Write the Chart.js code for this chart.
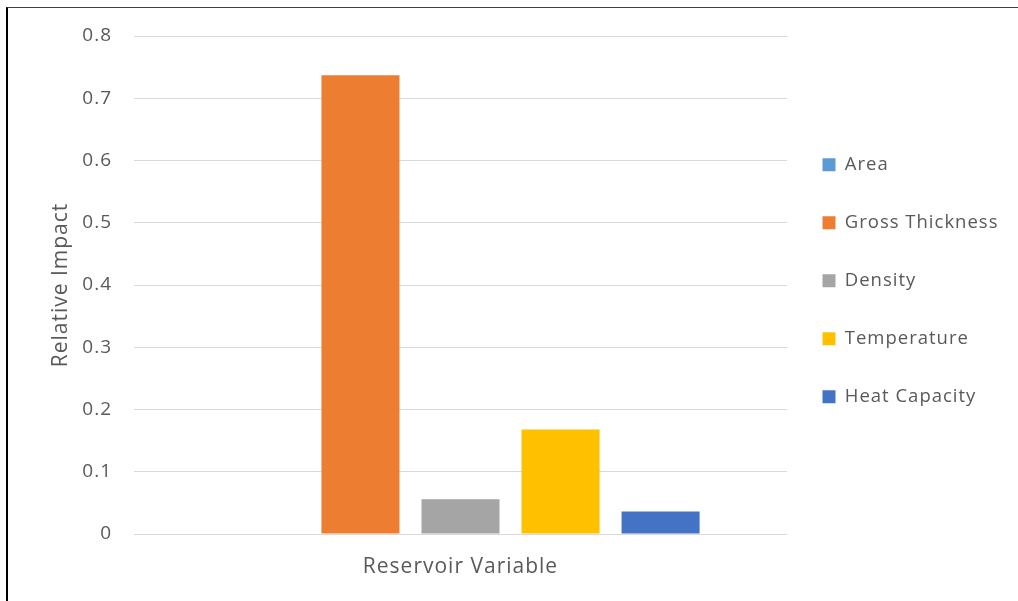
<!DOCTYPE html>
<html>
<head>
<meta charset="utf-8">
<script src="https://cdn.jsdelivr.net/npm/chart.js@4"></script>
<style>
  html, body { margin: 0; padding: 0; background: #fff; }
  #frame {
    position: absolute; left: 6px; top: 7px; width: 1011px; height: 600px;
    border-top: 1px solid #404040; border-left: 2px solid #000;
  }
  #chart { position: absolute; left: 0; top: 0; }
</style>
</head>
<body>
<div id="frame"></div>
<canvas id="chart" width="1018" height="601"></canvas>
<script>
const categories = [''];
const seriesNames = ['Area', 'Gross Thickness', 'Density', 'Temperature', 'Heat Capacity'];
const seriesValues = [0, 0.737, 0.056, 0.168, 0.036];
const seriesColors = ['#5b9bd5', '#ed7d31', '#a5a5a5', '#ffc000', '#4472c4'];
const yTicks = { min: 0, max: 0.8, step: 0.1 };

const textColor = '#595959';
const fontFamily = '"Open Sans", sans-serif';

// keep the legend column a fixed width so the plot area ends where it should
const legendFix = {
  id: 'legendFix',
  beforeLayout(chart) {
    chart.ctx.letterSpacing = '1px';
    const lg = chart.legend;
    if (lg && !lg.$fixed) {
      const fit = lg.fit;
      lg.fit = function () { fit.call(this); this.width = 231; };
      lg.$fixed = true;
    }
  },
  afterLayout(chart) {
    chart.legend.left -= 4;
    chart.legend.right -= 4;
  },
  beforeDraw(chart) {
    chart.ctx.letterSpacing = '1px';
  }
};

const chart = new Chart(document.getElementById('chart'), {
  type: 'bar',
  data: {
    labels: categories,
    datasets: seriesNames.map((name, i) => ({
      label: name,
      data: [seriesValues[i]],
      backgroundColor: seriesColors[i],
      borderWidth: 0,
      categoryPercentage: 0.766,
      barPercentage: 0.78
    }))
  },
  options: {
    responsive: false,
    animation: false,
    layout: { padding: { top: 36, left: 40, right: 0, bottom: 0 } },
    plugins: {
      tooltip: { enabled: false },
      legend: {
        position: 'right',
        align: 'start',
        title: { display: true, text: '', font: { size: 10, lineHeight: 1 }, padding: { top: 70, bottom: 0 } },
        labels: {
          boxWidth: 13,
          boxHeight: 13,
          padding: 39.5,
          color: textColor,
          font: { family: fontFamily, size: 18.5 }
        }
      }
    },
    scales: {
      x: {
        grid: { display: false },
        border: { display: false },
        ticks: { display: false },
        title: {
          display: true,
          text: 'Reservoir Variable',
          color: textColor,
          font: { family: fontFamily, size: 21, lineHeight: 1.2 },
          padding: { top: 0, bottom: 21 }
        },
        afterFit(scale) { scale.height = 67; }
      },
      y: {
        min: yTicks.min,
        max: yTicks.max,
        border: { display: false },
        grid: { color: '#d9d9d9', lineWidth: 1, drawTicks: false },
        ticks: {
          stepSize: yTicks.step,
          padding: 22,
          color: textColor,
          font: { family: fontFamily, size: 19 },
          callback: v => v === 0 ? '0' : v.toFixed(1)
        },
        title: {
          display: true,
          text: 'Relative Impact',
          color: textColor,
          font: { family: fontFamily, size: 21, lineHeight: 1.2 },
          padding: { top: 8, bottom: 0 }
        },
        afterFit(scale) { scale.width = 94; }
      }
    }
  },
  plugins: [legendFix]
});
</script>
</body>
</html>
